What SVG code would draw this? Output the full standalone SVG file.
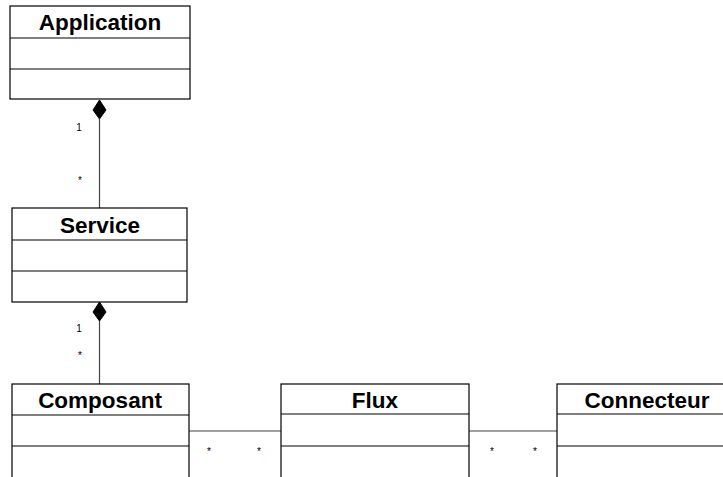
<svg xmlns="http://www.w3.org/2000/svg" width="723" height="477" viewBox="0 0 723 477">
<style>
.box{fill:#fff;stroke:#000;stroke-width:1.2}
.sep{stroke:#000;stroke-width:1.2}
.title{font-family:"Liberation Sans",Arial,sans-serif;font-weight:bold;font-size:22.5px;text-anchor:middle;fill:#000}
.lbl{font-family:"Liberation Sans",Arial,sans-serif;font-size:10px;text-anchor:middle;fill:#000}
.conn{stroke:#444;stroke-width:1.2;fill:none}
.dia{fill:#000;stroke:#000;stroke-width:1}
</style>
<rect width="723" height="477" fill="#fff"/>
<g id="connectors">
<line class="conn" x1="99.5" y1="119" x2="99.5" y2="208"/>
<polygon class="dia" points="99.5,100 106,110 99.5,119 93,110"/>
<text class="lbl" x="79" y="131">1</text>
<text class="lbl" x="80" y="184">*</text>
<line class="conn" x1="99.5" y1="321" x2="99.5" y2="385"/>
<polygon class="dia" points="99.5,302 106,312 99.5,321 93,312"/>
<text class="lbl" x="79" y="332">1</text>
<text class="lbl" x="80" y="359">*</text>
<line class="conn" x1="189" y1="431" x2="281" y2="431"/>
<text class="lbl" x="209" y="455">*</text>
<text class="lbl" x="259" y="455">*</text>
<line class="conn" x1="469" y1="431" x2="557" y2="431"/>
<text class="lbl" x="492" y="455">*</text>
<text class="lbl" x="535" y="455">*</text>
</g>
<g id="application">
<rect class="box" x="10" y="6" width="180" height="93"/>
<line class="sep" x1="10" y1="38" x2="190" y2="38"/>
<line class="sep" x1="10" y1="69" x2="190" y2="69"/>
<text class="title" x="100" y="30">Application</text>
</g>
<g id="service">
<rect class="box" x="12" y="208" width="175" height="94"/>
<line class="sep" x1="12" y1="240" x2="187" y2="240"/>
<line class="sep" x1="12" y1="271" x2="187" y2="271"/>
<text class="title" x="100" y="233">Service</text>
</g>
<g id="composant">
<rect class="box" x="12" y="384" width="177" height="100"/>
<line class="sep" x1="12" y1="415" x2="189" y2="415"/>
<line class="sep" x1="12" y1="446" x2="189" y2="446"/>
<text class="title" x="100" y="408">Composant</text>
</g>
<g id="flux">
<rect class="box" x="281" y="384" width="188" height="100"/>
<line class="sep" x1="281" y1="414" x2="469" y2="414"/>
<line class="sep" x1="281" y1="446" x2="469" y2="446"/>
<text class="title" x="375" y="408">Flux</text>
</g>
<g id="connecteur">
<rect class="box" x="557" y="384" width="180" height="100"/>
<line class="sep" x1="557" y1="414" x2="737" y2="414"/>
<line class="sep" x1="557" y1="446" x2="737" y2="446"/>
<text class="title" x="647" y="408">Connecteur</text>
</g>
</svg>
